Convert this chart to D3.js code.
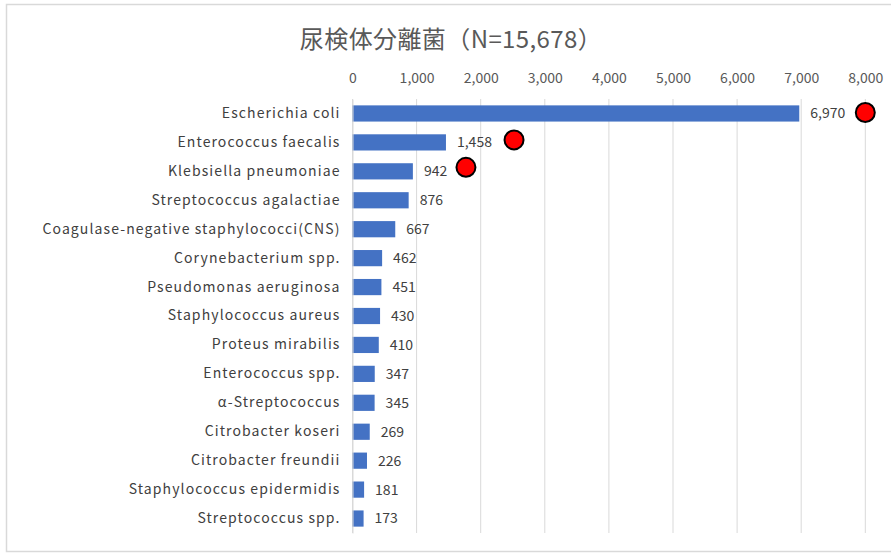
<!DOCTYPE html>
<html><head><meta charset="utf-8">
<script src="https://cdn.jsdelivr.net/npm/d3@7"></script>
<style>body{margin:0;background:#fff}svg{display:block}</style>
</head><body>
<svg id="c" width="891" height="553"></svg>
<script>
const title = "尿検体分離菌（N=15,678）";
const categories = ["Escherichia coli","Enterococcus faecalis","Klebsiella pneumoniae","Streptococcus agalactiae","Coagulase-negative staphylococci(CNS)","Corynebacterium spp.","Pseudomonas aeruginosa","Staphylococcus aureus","Proteus mirabilis","Enterococcus spp.","α-Streptococcus","Citrobacter koseri","Citrobacter freundii","Staphylococcus epidermidis","Streptococcus spp."];
const values = [6970,1458,942,876,667,462,451,430,410,347,345,269,226,181,173];
const tickValues = [0,1000,2000,3000,4000,5000,6000,7000,8000];
const markerCategories = ["Escherichia coli","Enterococcus faecalis","Klebsiella pneumoniae"];
const markerValues = [8000,2520,1770];

const svg = d3.select("#c");
const font = "'Noto Sans CJK JP','Noto Sans',sans-serif";
svg.append("rect").attr("x",6.5).attr("y",4.5).attr("width",900).attr("height",547)
  .attr("fill","#fff").attr("stroke","#d9d9d9").attr("stroke-width",1.5);

const x = d3.scaleLinear().domain([0,8000]).range([352.5,865.3]);
const y = d3.scaleBand().domain(categories).range([99,533]).paddingInner(0.44).paddingOuter(0.22);

svg.append("text").attr("x",451).attr("y",48).attr("text-anchor","middle")
  .attr("font-family",font).attr("font-size",24).attr("fill","#595959")
  .attr("letter-spacing","0.4px").text(title);

// gridlines
svg.append("g").selectAll("line").data(tickValues).join("line")
  .attr("x1",d=>x(d)).attr("x2",d=>x(d)).attr("y1",99).attr("y2",533)
  .attr("stroke","#d9d9d9").attr("stroke-width",1);

// top axis
const ax = svg.append("g").attr("transform","translate(0,99)")
  .call(d3.axisTop(x).tickValues(tickValues).tickFormat(d3.format(",")).tickSize(0).tickPadding(16));
ax.select(".domain").remove();
ax.selectAll("text").attr("font-family",font).attr("font-size",14).attr("fill","#595959");

// bars
svg.append("g").selectAll("rect").data(values).join("rect")
  .attr("x",x(0)).attr("y",(d,i)=>y(categories[i]))
  .attr("width",d=>x(d)-x(0)).attr("height",y.bandwidth()).attr("fill","#4472C4");

// category labels
const ay = svg.append("g").attr("transform",`translate(${x(0)},0)`)
  .call(d3.axisLeft(y).tickSize(0).tickPadding(12));
ay.select(".domain").attr("stroke","#d9d9d9");
ay.selectAll("text").attr("font-family",font).attr("font-size",14).attr("fill","#404040").attr("letter-spacing","1.1px");

// data labels
svg.append("g").selectAll("text").data(values).join("text")
  .attr("x",d=>x(d)+11).attr("y",(d,i)=>y(categories[i])+y.bandwidth()/2)
  .attr("dy","0.35em").attr("font-family",font).attr("font-size",14).attr("fill","#404040")
  .text(d=>d3.format(",")(d));

// red markers
svg.append("g").selectAll("circle").data(markerValues).join("circle")
  .attr("cx",d=>x(d)).attr("cy",(d,i)=>y(markerCategories[i])+y.bandwidth()/2-1-i*1.5)
  .attr("r",9.5).attr("fill","#ff0000").attr("stroke","#000").attr("stroke-width",2);
</script>
</body></html>
